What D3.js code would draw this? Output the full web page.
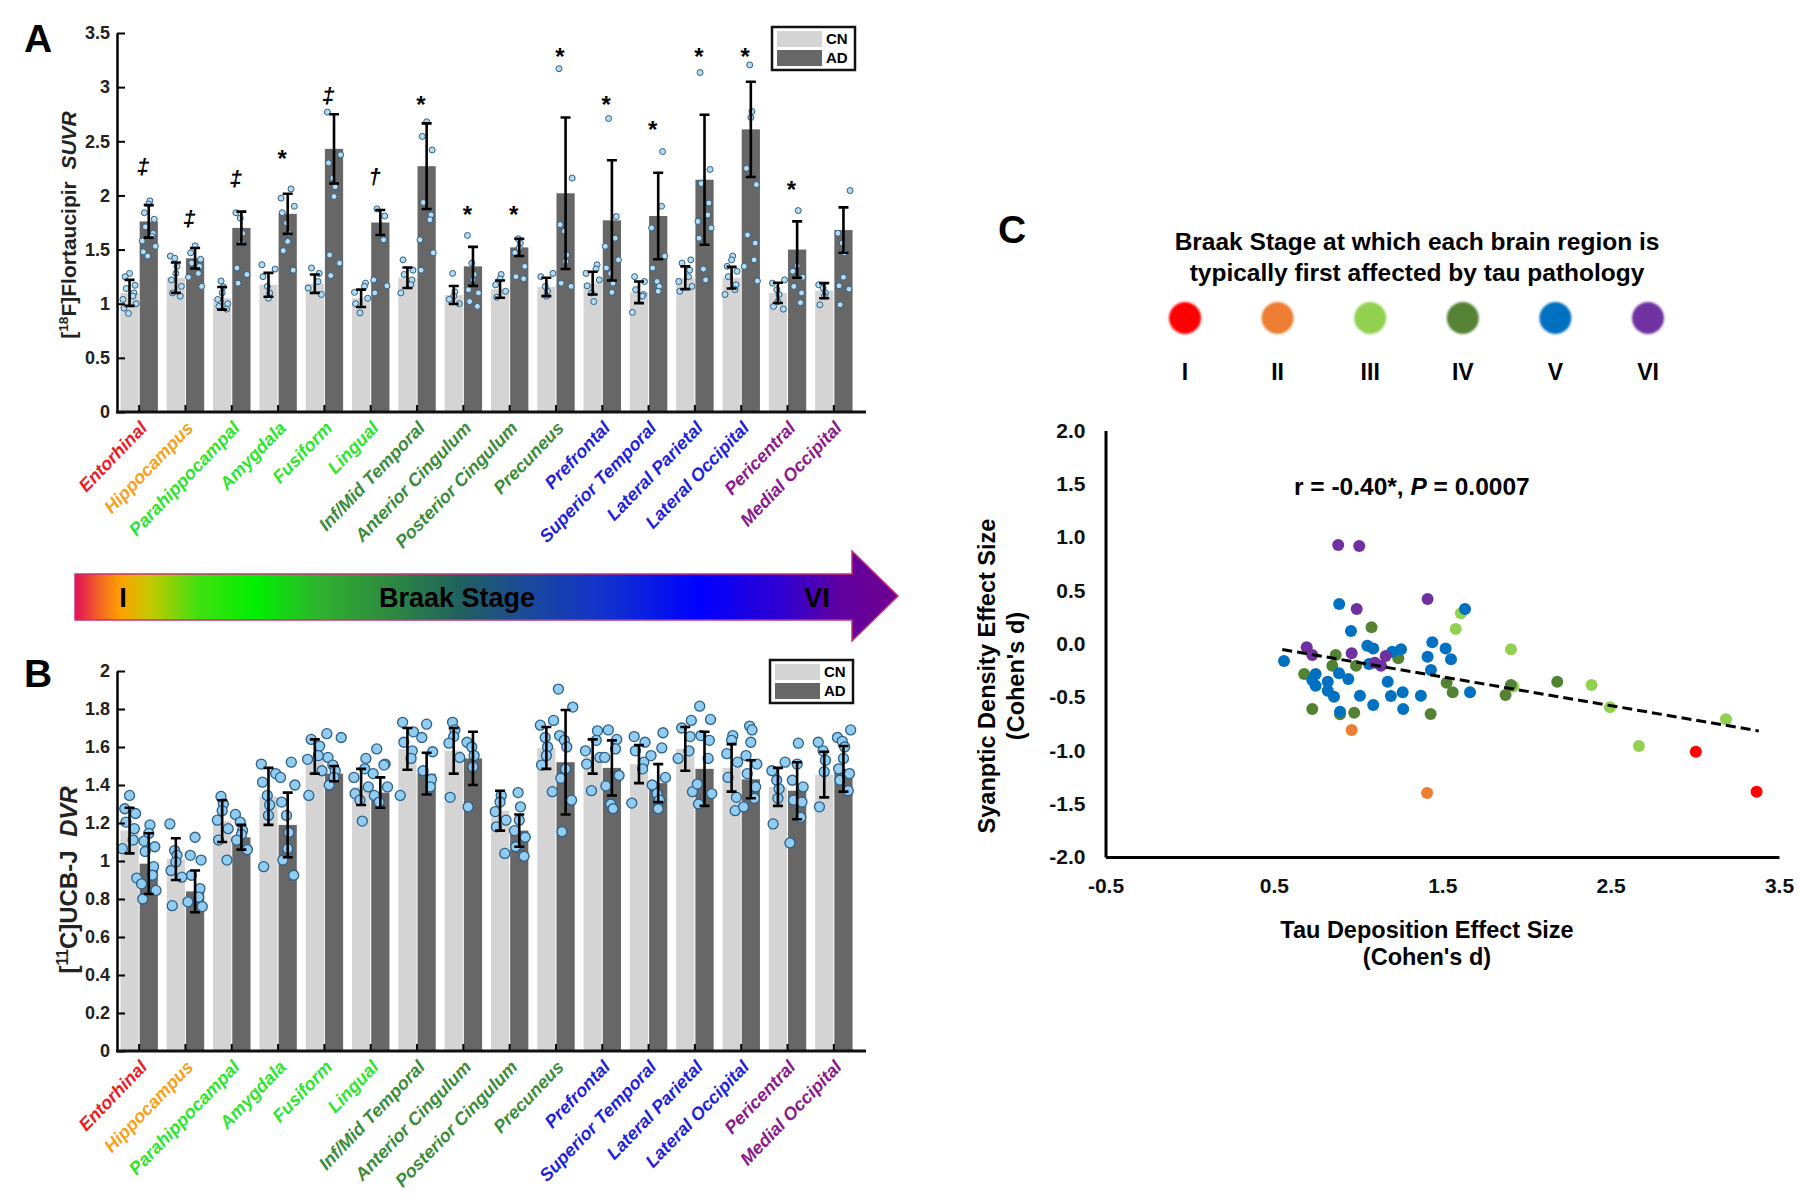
<!DOCTYPE html>
<html>
<head>
<meta charset="utf-8">
<script src="https://cdn.jsdelivr.net/npm/d3@7"></script>
<style>
  body { margin: 0; background: #fff; }
  svg { font-family: Arial, "Liberation Sans", sans-serif; font-weight: bold; }
</style>
</head>
<body>
<svg width="1800" height="1202"></svg>
<script>
// ---- data ----
const regions = ['Entorhinal', 'Hippocampus', 'Parahippocampal', 'Amygdala', 'Fusiform', 'Lingual',
  'Inf/Mid Temporal', 'Anterior Cingulum', 'Posterior Cingulum', 'Precuneus', 'Prefrontal',
  'Superior Temporal', 'Lateral Parietal', 'Lateral Occipital', 'Pericentral', 'Medial Occipital'];
const regionStage = [1, 2, 3, 3, 3, 3, 4, 4, 4, 4, 5, 5, 5, 5, 6, 6];
const groups = ['CN', 'AD'];
const stageNames = ['I', 'II', 'III', 'IV', 'V', 'VI'];

// panel A: [18F]Flortaucipir SUVR
const tauTicks = [0, 0.5, 1, 1.5, 2, 2.5, 3, 3.5];
const tauCN = [1.10, 1.24, 1.05, 1.175, 1.185, 1.05, 1.24, 1.08, 1.135, 1.155, 1.19, 1.105, 1.24, 1.24, 1.10, 1.12];
const tauCNsd = [0.12, 0.14, 0.105, 0.11, 0.085, 0.08, 0.095, 0.083, 0.08, 0.085, 0.105, 0.10, 0.105, 0.10, 0.093, 0.07];
const tauAD = [1.76, 1.42, 1.70, 1.83, 2.43, 1.75, 2.27, 1.345, 1.52, 2.02, 1.77, 1.81, 2.145, 2.61, 1.50, 1.68];
const tauADsd = [0.15, 0.095, 0.15, 0.185, 0.32, 0.115, 0.395, 0.18, 0.08, 0.70, 0.555, 0.40, 0.60, 0.44, 0.26, 0.21];
const tauSig = ['\u2021', '\u2021', '\u2021', '*', '\u2021', '\u2020', '*', '*', '*', '*', '*', '*', '*', '*', '*', ''];
const tauSigY = [2.25, 1.775, 2.14, 2.38, 2.91, 2.16, 2.88, 1.87, 1.87, 3.32, 2.88, 2.65, 3.32, 3.32, 2.10, 0];
const tauCNpts = [
  [1.28, 1.25, 1.17, 1.14, 1.10, 1.07, 1.04, 1.0, 0.96, 0.91],
  [1.44, 1.42, 1.345, 1.28, 1.22, 1.16, 1.10, 1.07],
  [1.21, 1.155, 1.10, 1.04, 1.0, 0.975, 0.95],
  [1.36, 1.32, 1.25, 1.16, 1.10, 1.05],
  [1.33, 1.28, 1.205, 1.145, 1.085],
  [1.19, 1.16, 1.105, 1.05, 1.0, 0.915],
  [1.405, 1.31, 1.27, 1.22, 1.175, 1.10],
  [1.28, 1.11, 1.07, 1.04, 1.0],
  [1.27, 1.23, 1.175, 1.115, 1.06],
  [1.28, 1.25, 1.16, 1.115, 1.07],
  [1.36, 1.32, 1.28, 1.22, 1.165, 1.10, 1.02],
  [1.25, 1.205, 1.13, 1.085, 1.07, 0.92],
  [1.405, 1.375, 1.31, 1.25, 1.205, 1.16, 1.115],
  [1.44, 1.405, 1.345, 1.30, 1.25, 1.175, 1.13, 1.085],
  [1.22, 1.19, 1.13, 1.085, 1.02, 0.975, 0.95],
  [1.175, 1.145, 1.10, 1.07, 0.99]
];
const tauADpts = [
  [1.95, 1.92, 1.84, 1.78, 1.71, 1.65, 1.62, 1.58, 1.53, 1.48, 1.44],
  [1.535, 1.47, 1.41, 1.375, 1.345, 1.28, 1.245, 1.16],
  [1.84, 1.79, 1.65, 1.56, 1.33, 1.27, 1.19],
  [2.06, 1.975, 1.90, 1.84, 1.745, 1.65, 1.575, 1.49, 1.31],
  [2.77, 2.375, 2.30, 2.16, 2.08, 1.99, 1.45, 1.375, 1.26],
  [1.875, 1.81, 1.59, 1.22, 1.165, 1.10],
  [2.68, 2.545, 2.42, 1.935, 1.82, 1.775, 1.59, 1.47, 1.31],
  [1.63, 1.375, 1.27, 1.22, 1.13, 1.10, 1.02, 0.975],
  [1.60, 1.56, 1.515, 1.47, 1.345, 1.25, 1.23],
  [3.17, 2.16, 1.73, 1.67, 1.45, 1.39, 1.19, 1.16],
  [2.71, 1.805, 1.605, 1.53, 1.405, 1.33, 1.28, 1.19, 1.105],
  [2.405, 1.90, 1.70, 1.44, 1.33, 1.205, 1.16, 1.115],
  [3.135, 2.24, 2.11, 1.93, 1.82, 1.76, 1.70, 1.605, 1.32, 1.22],
  [3.205, 2.775, 2.72, 2.25, 2.10, 1.635, 1.56, 1.405, 1.345, 1.21],
  [1.86, 1.35, 1.30, 1.245, 1.16, 1.10, 1.01],
  [2.045, 1.65, 1.56, 1.47, 1.245, 1.165, 1.135, 0.99]
];

// panel B: [11C]UCB-J DVR
const ucbTicks = [0, 0.2, 0.4, 0.6, 0.8, 1, 1.2, 1.4, 1.6, 1.8, 2];
const ucbCN = [1.16, 1.01, 1.21, 1.34, 1.55, 1.39, 1.59, 1.58, 1.265, 1.595, 1.55, 1.51, 1.59, 1.49, 1.39, 1.455];
const ucbCNsd = [0.12, 0.11, 0.11, 0.15, 0.09, 0.095, 0.11, 0.12, 0.105, 0.11, 0.09, 0.10, 0.115, 0.125, 0.10, 0.12];
const ucbAD = [0.986, 0.84, 1.125, 1.19, 1.46, 1.36, 1.46, 1.54, 1.16, 1.52, 1.49, 1.41, 1.485, 1.43, 1.37, 1.485];
const ucbADsd = [0.16, 0.11, 0.065, 0.17, 0.04, 0.08, 0.11, 0.14, 0.085, 0.275, 0.145, 0.10, 0.195, 0.10, 0.15, 0.12];
const ucbCNpts = [
  [1.345, 1.275, 1.25, 1.205, 1.17, 1.11, 1.065, 0.91],
  [1.195, 1.055, 1.03, 0.995, 0.95, 0.915, 0.765],
  [1.34, 1.30, 1.265, 1.215, 1.17, 1.11, 1.005],
  [1.51, 1.46, 1.415, 1.345, 1.295, 1.24, 0.97],
  [1.64, 1.605, 1.555, 1.535, 1.475, 1.345],
  [1.54, 1.485, 1.44, 1.39, 1.355, 1.32, 1.21],
  [1.73, 1.68, 1.625, 1.58, 1.54, 1.345],
  [1.73, 1.69, 1.655, 1.62, 1.545, 1.335],
  [1.345, 1.31, 1.26, 1.215, 1.18, 1.04],
  [1.74, 1.715, 1.65, 1.60, 1.555, 1.505, 1.365],
  [1.685, 1.635, 1.58, 1.545, 1.51, 1.37],
  [1.655, 1.625, 1.58, 1.52, 1.485, 1.305],
  [1.74, 1.70, 1.655, 1.58, 1.54, 1.365],
  [1.66, 1.635, 1.565, 1.52, 1.44, 1.335, 1.265],
  [1.52, 1.475, 1.425, 1.38, 1.33, 1.195],
  [1.625, 1.58, 1.53, 1.47, 1.285]
];
const ucbADpts = [
  [1.19, 1.145, 1.105, 1.075, 1.05, 0.97, 0.925, 0.88, 0.845, 0.80],
  [1.125, 1.03, 1.005, 0.925, 0.855, 0.81, 0.785, 0.76],
  [1.245, 1.205, 1.16, 1.14, 1.11, 1.06],
  [1.52, 1.44, 1.40, 1.31, 1.24, 1.15, 1.065, 1.005, 0.925],
  [1.67, 1.65, 1.545, 1.505, 1.475, 1.44, 1.40],
  [1.59, 1.51, 1.505, 1.46, 1.39, 1.345, 1.31],
  [1.72, 1.65, 1.575, 1.475, 1.43, 1.39],
  [1.625, 1.60, 1.555, 1.495, 1.285],
  [1.36, 1.285, 1.215, 1.16, 1.125, 1.075, 1.025],
  [1.905, 1.81, 1.66, 1.635, 1.60, 1.485, 1.435, 1.32, 1.155],
  [1.69, 1.64, 1.59, 1.545, 1.45, 1.395, 1.30, 1.275],
  [1.675, 1.595, 1.555, 1.44, 1.40, 1.355, 1.32, 1.275],
  [1.815, 1.745, 1.66, 1.635, 1.54, 1.405, 1.355, 1.30],
  [1.71, 1.69, 1.625, 1.555, 1.51, 1.46, 1.39, 1.33, 1.285],
  [1.62, 1.51, 1.425, 1.39, 1.32, 1.31, 1.23, 1.095],
  [1.69, 1.65, 1.63, 1.60, 1.54, 1.485, 1.46, 1.425, 1.37]
];

// panel C: effect sizes per region and subject-level stage colour
const xTicksC = [-0.5, 0.5, 1.5, 2.5, 3.5];
const yTicksC = [-2, -1.5, -1, -0.5, 0, 0.5, 1, 1.5, 2];
const tauEffect = [
  3.006, 3.367,
  0.962, 1.41,
  1.611, 1.58, 1.908, 1.922, 2.387, 2.496, 2.668, 3.185,
  1.08, 0.867, 0.847, 0.68, 0.988, 1.239, 0.728, 0.893, 0.977, 1.431, 1.526, 1.562, 1.876, 1.908, 2.183,
  0.888, 1.635, 0.958, 0.56, 1.055, 1.09, 1.203, 1.255, 1.441, 1.413, 1.52, 1.552, 1.433, 0.748, 0.728,
  0.748, 0.82, 0.887, 0.942, 0.82, 0.857, 0.893, 1.011, 1.09, 1.176, 1.195, 1.265, 1.268, 1.373, 1.665, 1.065,
  0.882, 1.007, 0.992, 1.413, 0.695, 0.728, 0.962, 1.10, 1.136, 1.164
];
const synEffect = [
  -1.012, -1.387,
  -0.809, -1.40,
  0.286, 0.139, -0.052, -0.40, -0.386, -0.596, -0.959, -0.708,
  0.155, -0.105, -0.205, -0.283, -0.205, -0.136, -0.612, -0.66, -0.646, -0.658, -0.365, -0.455, -0.48, -0.386, -0.355,
  0.373, 0.327, 0.12, -0.161, -0.018, -0.043, -0.074, -0.052, 0.014, -0.121, -0.043, -0.146, -0.246, -0.283, -0.34,
  -0.393, -0.355, -0.277, -0.33, -0.44, -0.496, -0.637, -0.487, -0.574, -0.355, -0.49, -0.455, -0.612, -0.487, -0.455, -0.19,
  0.927, 0.917, 0.327, 0.42, -0.033, -0.105, -0.089, -0.177, -0.205, -0.115
];
const pointStage = [
  1, 1,
  2, 2,
  3, 3, 3, 3, 3, 3, 3, 3,
  4, 4, 4, 4, 4, 4, 4, 4, 4, 4, 4, 4, 4, 4, 4,
  5, 5, 5, 5, 5, 5, 5, 5, 5, 5, 5, 5, 5, 5, 5,
  5, 5, 5, 5, 5, 5, 5, 5, 5, 5, 5, 5, 5, 5, 5, 5,
  6, 6, 6, 6, 6, 6, 6, 6, 6, 6
];
const fitSlope = -0.27;
const fitIntercept = 0.095;
const fitRange = [0.55, 3.38];

// ---- styles ----
const labelColors = ['#ee1c25', '#f7a11a', '#2ee52e', '#3a8c3a', '#1f1fdc', '#8b1a8b'];
const stageColors = ['#ff0000', '#ed7d31', '#92d050', '#548235', '#0070c0', '#7030a0'];
const barColors = ['#d4d4d4', '#676767'];
const jitter = [-4, 3, -1, 5, -6, 1, -3, 6, 0, 4, -5];

const svg = d3.select('svg');
svg.append('rect').attr('width', 1800).attr('height', 1202).attr('fill', '#fff');
const defs = svg.append('defs');

function drawBarPanel(p) {
  const g = svg.append('g');
  const x = d3.scaleBand().domain(regions).range([116, 857]).paddingInner(0.17).paddingOuter(0.085);
  const sub = d3.scaleBand().domain(groups).range([0, x.bandwidth()]);
  const y = d3.scaleLinear().domain([0, p.yMax]).range([p.bottom, p.top]);
  const bw = sub.bandwidth();

  const recs = regions.flatMap((r, i) => groups.map((grp, k) => ({
    r, i, k, mean: p.means[k][i], sd: p.sds[k][i], pts: p.pts[k][i],
    cx: x(r) + sub(grp) + bw / 2
  })));

  g.selectAll('rect.bar').data(recs).join('rect')
    .attr('x', d => d.cx - bw / 2 + 0.5)
    .attr('y', d => y(d.mean))
    .attr('width', bw - 1)
    .attr('height', d => p.bottom - y(d.mean))
    .attr('fill', d => barColors[d.k]);

  const dots = recs.flatMap(d => d.pts.map((v, j) => ({ cx: d.cx, v, j })));
  g.selectAll('circle.pt').data(dots).join('circle')
    .attr('cx', d => d.cx + jitter[(d.j * 3 + d.cx) % jitter.length | 0] * p.spread)
    .attr('cy', d => y(d.v))
    .attr('r', p.dotR)
    .attr('fill', p.dotFill)
    .attr('stroke', p.dotStroke)
    .attr('stroke-width', p.dotSw);

  g.selectAll('path.err').data(recs).join('path')
    .attr('d', d => {
      const hi = y(d.mean + d.sd), lo = y(d.mean - d.sd);
      return `M${d.cx - 5},${hi}H${d.cx + 5}M${d.cx},${hi}V${lo}M${d.cx - 5},${lo}H${d.cx + 5}`;
    })
    .attr('stroke', '#000').attr('stroke-width', 2.6).attr('fill', 'none');

  // y axis
  const ya = g.append('g').attr('transform', 'translate(117,0)')
    .call(d3.axisLeft(y).tickValues(p.ticks).tickFormat(d => d).tickSize(-8).tickSizeOuter(0).tickPadding(7));
  ya.select('.domain').attr('stroke-width', 2.5);
  ya.selectAll('.tick line').attr('stroke-width', 2);
  ya.selectAll('.tick text').attr('font-size', 18).attr('font-weight', 'bold')
    .attr('font-family', 'Arial, "Liberation Sans", sans-serif').attr('fill', '#222');

  // x axis
  const xa = g.append('g').attr('transform', `translate(0,${p.bottom})`)
    .call(d3.axisBottom(x).tickSize(-7).tickSizeOuter(0).tickFormat(d => d));
  xa.select('.domain').remove();
  xa.selectAll('.tick line').attr('stroke-width', 2);
  xa.selectAll('.tick text')
    .attr('x', 0).attr('y', 0).attr('dy', null)
    .attr('text-anchor', 'end')
    .attr('transform', 'translate(9,17) rotate(-46)')
    .attr('font-size', 18).attr('font-weight', 'bold').attr('font-style', 'italic')
    .attr('font-family', 'Arial, "Liberation Sans", sans-serif')
    .attr('fill', d => labelColors[regionStage[regions.indexOf(d)] - 1]);
  g.append('line').attr('x1', 116).attr('x2', 866).attr('y1', p.bottom).attr('y2', p.bottom)
    .attr('stroke', '#111').attr('stroke-width', 2.8);

  // significance markers
  if (p.sig) {
    g.selectAll('text.sig').data(regions.map((r, i) => ({ r, s: p.sig[i], v: p.sigY[i] })).filter(d => d.s))
      .join('text')
      .attr('x', d => x(d.r) + x.bandwidth() / 2 + 4)
      .attr('y', d => y(d.v) + (d.s === '*' ? 13 : 6))
      .attr('text-anchor', 'middle')
      .attr('font-size', d => d.s === '*' ? 24 : 22)
      .attr('font-style', d => d.s === '*' ? 'normal' : 'italic')
      .text(d => d.s);
  }

  // legend
  const lg = g.append('g').attr('transform', `translate(${p.legX},${p.legY})`);
  lg.append('rect').attr('width', 83).attr('height', 43).attr('fill', '#fff')
    .attr('stroke', '#111').attr('stroke-width', 2.5);
  groups.forEach((grp, k) => {
    lg.append('rect').attr('x', 5).attr('y', 4 + k * 19).attr('width', 45).attr('height', 16).attr('fill', barColors[k]);
    lg.append('text').attr('x', 54).attr('y', 17 + k * 19).attr('font-size', 15).text(grp);
  });

  // axis title
  const t = svg.append('text')
    .attr('transform', `translate(${p.titleX},${p.titleY}) rotate(-90)`)
    .attr('text-anchor', 'middle').attr('font-size', p.titleSize).attr('fill', '#222');
  t.append('tspan').text('[');
  t.append('tspan').attr('font-size', p.titleSize * 0.65).attr('dy', -p.titleSize * 0.38).text(p.iso);
  t.append('tspan').attr('dy', p.titleSize * 0.38).text(p.tracer + '\u00a0\u00a0');
  t.append('tspan').attr('font-style', 'italic').text(p.unit);

  svg.append('text').attr('x', 24).attr('y', p.letterY).attr('font-size', 39).text(p.letter);
}

drawBarPanel({
  letter: 'A', letterY: 52, top: 33, bottom: 412, yMax: 3.5, ticks: tauTicks,
  means: [tauCN, tauAD], sds: [tauCNsd, tauADsd], pts: [tauCNpts, tauADpts],
  sig: tauSig, sigY: tauSigY, legX: 772, legY: 27,
  dotR: 3, dotFill: '#b4dbf2', dotStroke: '#2f5f80', dotSw: 1, spread: 1.1,
  titleX: 76, titleY: 225, titleSize: 21, iso: '18', tracer: 'F]Flortaucipir', unit: 'SUVR'
});

drawBarPanel({
  letter: 'B', letterY: 687, top: 671, bottom: 1051, yMax: 2, ticks: ucbTicks,
  means: [ucbCN, ucbAD], sds: [ucbCNsd, ucbADsd], pts: [ucbCNpts, ucbADpts],
  sig: null, legX: 770, legY: 660,
  dotR: 5, dotFill: '#92cdf0', dotStroke: '#2a5f8a', dotSw: 1.3, spread: 1.2,
  titleX: 77, titleY: 880, titleSize: 24, iso: '11', tracer: 'C]UCB-J', unit: 'DVR'
});

// ---- Braak stage arrow ----
const grad = defs.append('linearGradient').attr('id', 'braak')
  .attr('gradientUnits', 'userSpaceOnUse').attr('x1', 75).attr('x2', 898).attr('y1', 0).attr('y2', 0);
[[0, '#e0105a'], [0.03, '#f26522'], [0.055, '#ffa000'], [0.09, '#c8c800'], [0.15, '#40e010'],
 [0.22, '#00f000'], [0.30, '#30b030'], [0.38, '#2e8b40'], [0.47, '#1f6060'], [0.55, '#1a4a9a'],
 [0.65, '#1030d0'], [0.76, '#0000ff'], [0.86, '#3000d0'], [0.93, '#6000a0'], [1, '#700090']]
  .forEach(([o, c]) => grad.append('stop').attr('offset', o).attr('stop-color', c));
svg.append('path')
  .attr('d', 'M75,574H852V551L898,596L852,641V620H75Z')
  .attr('fill', 'url(#braak)').attr('stroke', '#c8307a').attr('stroke-width', 1.5);
svg.append('text').attr('x', 123).attr('y', 607).attr('text-anchor', 'middle').attr('font-size', 27).text('I');
svg.append('text').attr('x', 457).attr('y', 607).attr('text-anchor', 'middle').attr('font-size', 27).text('Braak Stage');
svg.append('text').attr('x', 817).attr('y', 607).attr('text-anchor', 'middle').attr('font-size', 27).text('VI');

// ---- panel C ----
svg.append('text').attr('x', 998).attr('y', 243).attr('font-size', 39).text('C');
svg.append('text').attr('x', 1417).attr('y', 250).attr('text-anchor', 'middle').attr('font-size', 24.5)
  .text('Braak Stage at which each brain region is');
svg.append('text').attr('x', 1417).attr('y', 281).attr('text-anchor', 'middle').attr('font-size', 24.5)
  .text('typically first affected by tau pathology');

defs.append('filter').attr('id', 'soft').append('feGaussianBlur').attr('stdDeviation', 1);
const lx = d3.scalePoint().domain(stageNames).range([1185, 1648]);
svg.selectAll('circle.leg').data(stageNames).join('circle')
  .attr('cx', d => lx(d)).attr('cy', 318).attr('r', 16)
  .attr('fill', (d, i) => stageColors[i]).attr('filter', 'url(#soft)');
svg.selectAll('text.leg').data(stageNames).join('text')
  .attr('x', d => lx(d)).attr('y', 380).attr('text-anchor', 'middle').attr('font-size', 23).text(d => d);

const xC = d3.scaleLinear().domain([-0.5, 3.5]).range([1105.5, 1779]);
const yC = d3.scaleLinear().domain([-2, 2]).range([857, 430.6]);

const yaC = svg.append('g').attr('transform', 'translate(1105.5,0)')
  .call(d3.axisLeft(yC).tickValues(yTicksC).tickFormat(d => d.toFixed(1)).tickSize(0).tickPadding(20));
const xaC = svg.append('g').attr('transform', 'translate(0,857)')
  .call(d3.axisBottom(xC).tickValues(xTicksC).tickFormat(d => d.toFixed(1)).tickSize(0).tickPadding(21));
[yaC, xaC].forEach(a => {
  a.select('.domain').attr('stroke-width', 3);
  a.selectAll('.tick text').attr('font-size', 21).attr('font-weight', 'bold')
    .attr('font-family', 'Arial, "Liberation Sans", sans-serif').attr('fill', '#111');
});

const pts = tauEffect.map((t, i) => ({ t, s: synEffect[i], st: pointStage[i] }))
  .sort((a, b) => a.st - b.st);
svg.append('g').selectAll('circle').data(pts).join('circle')
  .attr('cx', d => xC(d.t)).attr('cy', d => yC(d.s)).attr('r', 6)
  .attr('fill', d => stageColors[d.st - 1]);

svg.append('path')
  .datum(fitRange)
  .attr('d', d3.line().x(d => xC(d)).y(d => yC(fitIntercept + fitSlope * d)))
  .attr('stroke', '#000').attr('stroke-width', 3).attr('stroke-dasharray', '10,5').attr('fill', 'none');

const ann = svg.append('text').attr('x', 1294).attr('y', 495).attr('font-size', 24.5);
ann.append('tspan').text('r = -0.40*, ');
ann.append('tspan').attr('font-style', 'italic').text('P');
ann.append('tspan').text(' = 0.0007');

svg.append('text').attr('x', 1427).attr('y', 938).attr('text-anchor', 'middle').attr('font-size', 23.5)
  .text('Tau Deposition Effect Size');
svg.append('text').attr('x', 1427).attr('y', 965).attr('text-anchor', 'middle').attr('font-size', 23.5)
  .text("(Cohen's d)");
svg.append('text').attr('transform', 'translate(995,676) rotate(-90)').attr('text-anchor', 'middle')
  .attr('font-size', 23.5).text('Syanptic Density Effect Size');
svg.append('text').attr('transform', 'translate(1024,676) rotate(-90)').attr('text-anchor', 'middle')
  .attr('font-size', 23.5).text("(Cohen's d)");
</script>
</body>
</html>
